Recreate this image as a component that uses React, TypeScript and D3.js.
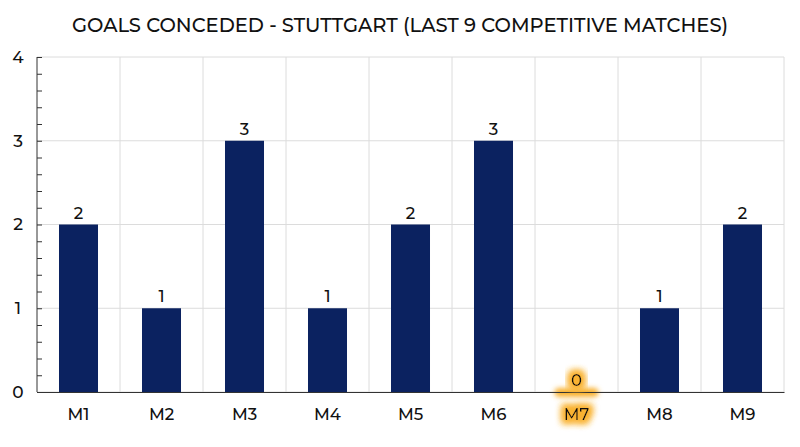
import React, { useEffect, useRef } from "react";
import * as d3 from "d3";

const matches = ["M1", "M2", "M3", "M4", "M5", "M6", "M7", "M8", "M9"];
const goalsConceded = [2, 1, 3, 1, 2, 3, 0, 1, 2];
const yTicks = [0, 1, 2, 3, 4];
const highlighted = "M7";

const FONT = "Montserrat, 'Noto Sans', sans-serif";

const App: React.FC = () => {
  const svgRef = useRef<SVGSVGElement>(null);

  useEffect(() => {
    if (!svgRef.current) return;
    const root = d3.select(svgRef.current);
    root.selectAll("*").remove();

    const width = 800;
    const height = 447;
    const margin = { top: 57, right: 16, bottom: 55, left: 37 };
    const innerW = width - margin.left - margin.right;
    const innerH = height - margin.top - margin.bottom;

    const defs = root.append("defs");
    const glow = defs
      .append("filter")
      .attr("id", "glow")
      .attr("x", "-50%")
      .attr("y", "-50%")
      .attr("width", "200%")
      .attr("height", "200%");
    glow.append("feMorphology").attr("in", "SourceAlpha").attr("operator", "dilate").attr("radius", 3).attr("result", "thick");
    glow.append("feFlood").attr("flood-color", "#f9b233").attr("flood-opacity", 1).attr("result", "orange");
    glow.append("feComposite").attr("in", "orange").attr("in2", "thick").attr("operator", "in").attr("result", "shape");
    glow.append("feGaussianBlur").attr("in", "shape").attr("stdDeviation", 3.5).attr("result", "blur");
    const merge = glow.append("feMerge");
    merge.append("feMergeNode").attr("in", "blur");
    merge.append("feMergeNode").attr("in", "blur");
    merge.append("feMergeNode").attr("in", "SourceGraphic");

    const blurOnly = defs.append("filter").attr("id", "soft").attr("x", "-50%").attr("y", "-100%").attr("width", "200%").attr("height", "300%");
    blurOnly.append("feGaussianBlur").attr("stdDeviation", 2.5);

    root
      .append("text")
      .attr("x", width / 2)
      .attr("y", 32)
      .attr("text-anchor", "middle")
      .attr("font-family", FONT)
      .attr("font-size", 19.5)
      .attr("font-weight", 500)
      .attr("fill", "#111")
      .text("GOALS CONCEDED - STUTTGART (LAST 9 COMPETITIVE MATCHES)");

    const g = root.append("g").attr("transform", `translate(${margin.left},${margin.top})`);

    const x = d3.scaleBand().domain(matches).range([0, innerW]).paddingInner(0).paddingOuter(0);
    const y = d3.scaleLinear().domain([0, 4]).range([innerH, 0]);
    const barW = x.bandwidth() * 0.47;

    // grid
    g.append("g")
      .selectAll("line")
      .data(yTicks)
      .enter()
      .append("line")
      .attr("x1", 0)
      .attr("x2", innerW)
      .attr("y1", (d) => y(d))
      .attr("y2", (d) => y(d))
      .attr("stroke", "#dcdcdc")
      .attr("stroke-width", 1);
    g.append("g")
      .selectAll("line")
      .data(matches)
      .enter()
      .append("line")
      .attr("x1", (d) => x(d)! + x.step())
      .attr("x2", (d) => x(d)! + x.step())
      .attr("y1", 0)
      .attr("y2", innerH)
      .attr("stroke", "#dcdcdc")
      .attr("stroke-width", 1);

    // bars
    g.selectAll(".bar")
      .data(matches)
      .enter()
      .append("rect")
      .attr("x", (d) => x(d)! + (x.bandwidth() - barW) / 2)
      .attr("y", (d, i) => y(goalsConceded[i]))
      .attr("width", barW)
      .attr("height", (d, i) => innerH - y(goalsConceded[i]))
      .attr("fill", "#0b2260");

    // highlight glow on baseline of highlighted match
    const hx = x(highlighted)!;
    g.append("rect")
      .attr("x", hx + x.bandwidth() / 2 - 22)
      .attr("y", innerH - 4)
      .attr("width", 44)
      .attr("height", 9)
      .attr("rx", 4.5)
      .attr("fill", "#f9b233")
      .attr("filter", "url(#soft)");

    // y axis
    const yAxis = g.append("g").call(
      d3.axisLeft(y).tickValues(d3.range(0, 4.01, 0.2)).tickSize(6).tickFormat(() => "")
    );
    yAxis.select(".domain").attr("stroke", "#333").attr("d", `M0,${innerH}V0`);
    yAxis.selectAll(".tick line").attr("stroke", "#333").attr("x1", 0).attr("x2", 5);
    g.append("g")
      .selectAll("text")
      .data(yTicks)
      .enter()
      .append("text")
      .attr("x", -19)
      .attr("y", (d) => y(d))
      .attr("dy", "0.35em")
      .attr("text-anchor", "middle")
      .attr("font-family", FONT)
      .attr("font-size", 17)
      .attr("font-weight", 500)
      .attr("fill", "#111")
      .text((d) => d);

    // x axis
    const xAxis = g.append("g").attr("transform", `translate(0,${innerH})`).call(d3.axisBottom(x).tickSize(0));
    xAxis.select(".domain").attr("stroke", "#333");
    xAxis
      .selectAll(".tick text")
      .attr("font-family", FONT)
      .attr("font-size", 16.5)
      .attr("font-weight", 500)
      .attr("fill", "#111")
      .attr("dy", "1.5em")
      .attr("filter", (d) => (d === highlighted ? "url(#glow)" : null));

    // value labels
    g.selectAll(".val")
      .data(matches)
      .enter()
      .append("text")
      .attr("x", (d) => x(d)! + x.bandwidth() / 2)
      .attr("y", (d, i) => y(goalsConceded[i]) - 6)
      .attr("text-anchor", "middle")
      .attr("font-family", FONT)
      .attr("font-size", 16.5)
      .attr("font-weight", 500)
      .attr("fill", "#111")
      .attr("filter", (d) => (d === highlighted ? "url(#glow)" : null))
      .text((d, i) => goalsConceded[i]);
  }, []);

  return <svg ref={svgRef} width={800} height={447} style={{ display: "block", position: "absolute", left: 0, top: 0 }} />;
};

export default App;
